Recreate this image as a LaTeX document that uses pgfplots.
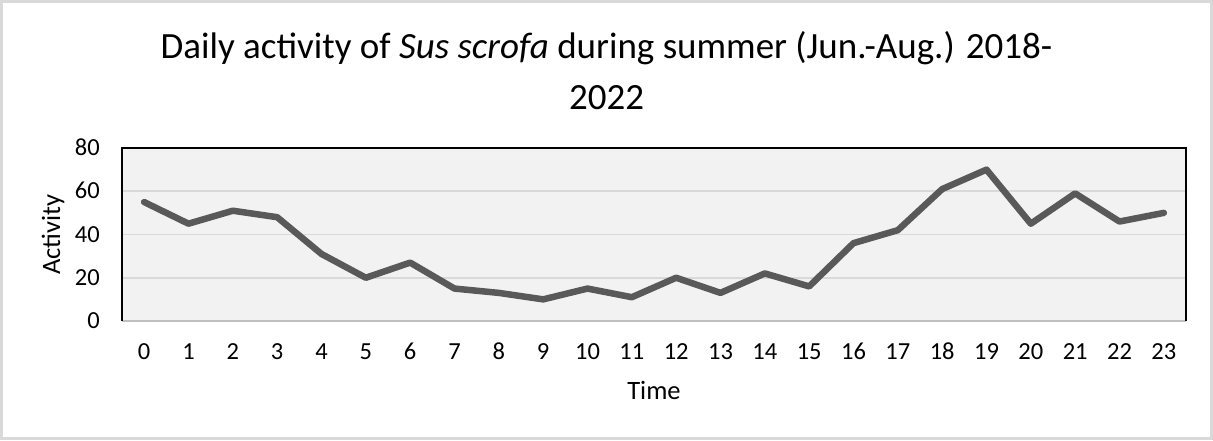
\documentclass[border=0pt]{standalone}
\usepackage{fontspec}
\setmainfont{Carlito}
\usepackage{pgfplots}
\pgfplotsset{compat=1.18}

\definecolor{linegray}{HTML}{595959}
\definecolor{plotbg}{HTML}{F2F2F2}
\definecolor{gridgray}{HTML}{D9D9D9}
\definecolor{framegray}{HTML}{D9D9D9}
\definecolor{baseaxis}{HTML}{BFBFBF}

\begin{document}
\begin{tikzpicture}
\useasboundingbox (0,0) rectangle (1213pt,440pt);
% outer chart frame
\draw[framegray, line width=2.5pt] (1.5pt,1.5pt) rectangle (1211.5pt,438.5pt);

\begin{axis}[
    at={(122pt,119pt)}, anchor=south west,
    scale only axis, width=1064pt, height=173pt,
    xmin=-0.5, xmax=23.5, ymin=0, ymax=80,
    xtick={0,...,23}, ytick={0,20,40,60,80},
    major tick length=0pt,
    axis line style={draw=none},
    axis background/.style={fill=plotbg},
    ymajorgrids, grid style={gridgray, line width=1.8pt},
    /pgf/number format/assume math mode=true,
    tick label style={font=\fontsize{24.5}{29}\selectfont, inner sep=0pt},
    xticklabel style={anchor=base, yshift=-38pt},
    yticklabel style={anchor=base east, xshift=-22pt, yshift=-7.7pt},
    label style={font=\fontsize{26.5}{31}\selectfont, inner sep=0pt},
    xlabel={Time}, ylabel={Activity},
    xlabel style={at={(axis description cs:0.5,-0.4509)}, anchor=base},
    ylabel style={at={(axis description cs:-0.0648,0.5)}, anchor=center},
    clip=false,
]
\addplot[linegray, line width=6.5pt, line join=round, line cap=round] coordinates {
  (0,55) (1,45) (2,51) (3,48) (4,31) (5,20) (6,27) (7,15) (8,13) (9,10)
  (10,15) (11,11) (12,20) (13,13) (14,22) (15,16) (16,36) (17,42) (18,61)
  (19,70) (20,45) (21,59) (22,46) (23,50)
};
\draw[baseaxis, line width=2pt] (rel axis cs:0,0) -- (rel axis cs:1,0);
\draw[black, line width=2pt] (rel axis cs:0,0) -- (rel axis cs:0,1) -- (rel axis cs:1,1) -- (rel axis cs:1,0);
\end{axis}

% title
\node[anchor=base, font=\fontsize{37}{44}\selectfont, inner sep=0pt] at (606.5pt,381pt)
  {Daily activity of \textit{Sus scrofa} during summer (Jun.-Aug.) 2018-};
\node[anchor=base, font=\fontsize{37}{44}\selectfont, inner sep=0pt] at (606.5pt,330pt) {2022};
\end{tikzpicture}
\end{document}
